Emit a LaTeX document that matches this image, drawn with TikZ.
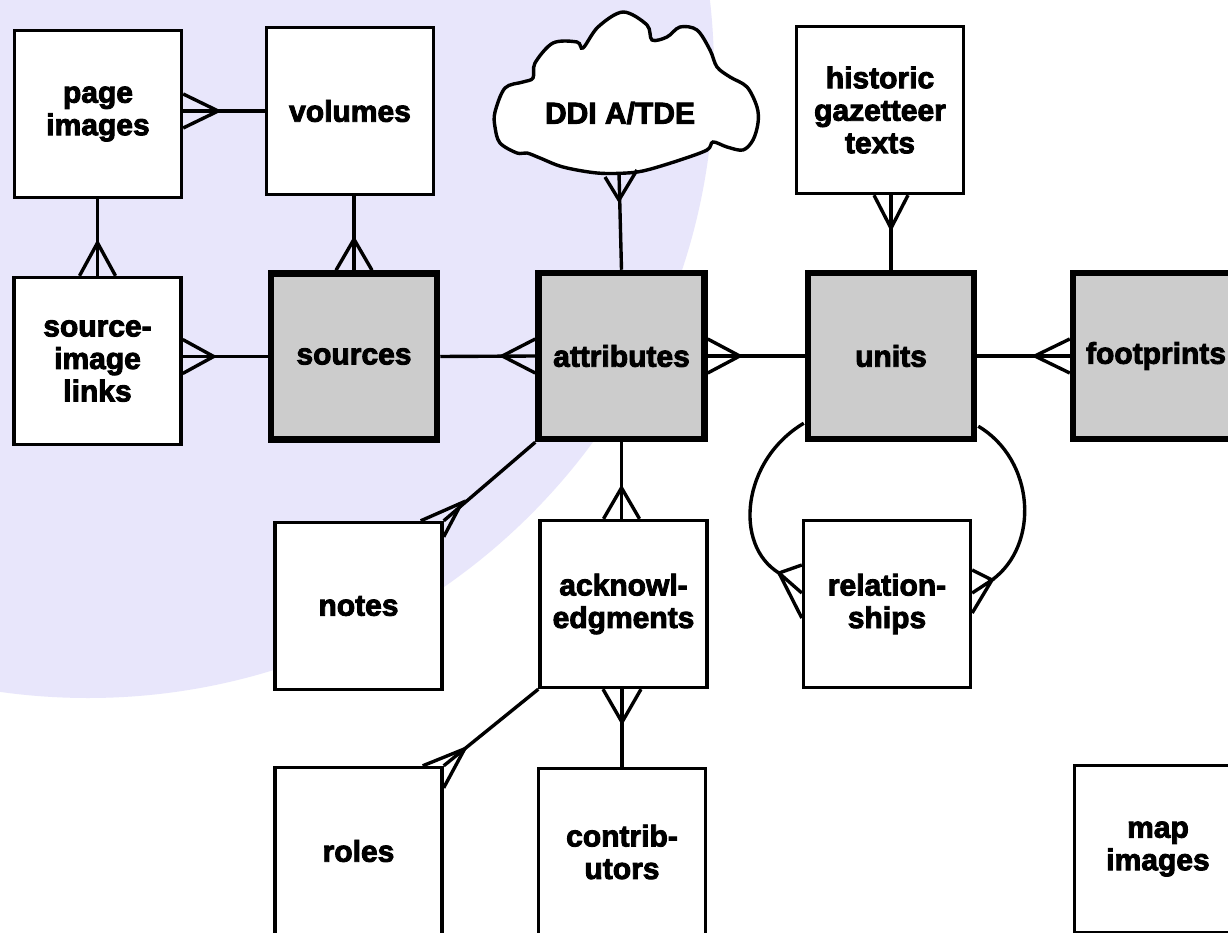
\documentclass[tikz,border=0pt]{standalone}
\usepackage{fontspec}
\setmainfont{Liberation Sans}[BoldFeatures={FakeBold=3}]
\usetikzlibrary{calc}
\definecolor{lav}{RGB}{232,230,251}
\definecolor{entgray}{RGB}{204,204,204}
\newcommand\lbl{\bfseries\fontsize{30}{32.5}\selectfont}
\tikzset{
  box/.style={draw, line width=3.4pt, fill=white, minimum width=167pt,
    minimum height=167pt, inner sep=0pt, align=center, font=\lbl},
  core/.style={box, line width=6.5pt, fill=entgray, minimum width=166pt,
    minimum height=166pt},
  link/.style={line width=3.4pt},
}
\begin{document}
\begin{tikzpicture}[x=1pt, y=-1pt]
\useasboundingbox (0,0) rectangle (1228,933);
\fill[white] (0,0) rectangle (1228,933);
\clip (0,0) rectangle (1228,933);
\fill[lav] (88,72) circle[radius=626];

% cloud outline for the external source
\draw[link, fill=white] plot[smooth cycle, tension=0.55] coordinates {
  (495,112) (505,88) (523,82) (533,78) (535,63) (553,43) (577,42) (583,48)
  (598,27) (623,12) (647,25) (652,40) (667,37) (680,27) (697,30) (710,50)
  (717,67) (730,77) (747,87) (757,107) (758,123) (753,140) (743,150)
  (727,147) (713,142) (707,150) (680,160) (647,170) (627,173) (597,173)
  (563,167) (540,158) (527,153) (517,153) (500,143) (495,127)};
\node[font=\lbl] (ddi) at (620,113) {DDI A/TDE};
\coordinate (ddibot) at (619,173);
\coordinate (ddimeet) at (619,200);

% entities
\node[box]  (pageimg)    at (98,114)    {page\\images};
\node[box]  (volumes)    at (350,111)   {volumes};
\node[box]  (srclinks)   at (97.5,361)  {source-\\image\\links};
\node[core] (sources)    at (354,356.5) {sources};
\node[core] (attributes) at (621.5,356) {attributes};
\node[core] (units)      at (891,356)   {units};
\node[core] (footprints) at (1156,356)  {footprints};
\node[box]  (historic)   at (880,110)   {historic\\gazetteer\\texts};
\node[box]  (notes)      at (358.5,606) {notes};
\node[box]  (ack)        at (623.5,604) {acknowl-\\edgments};
\node[box]  (relships)   at (887,604)   {relation-\\ships};
\node[box]  (roles)      at (358.5,851) {roles};
\node[box]  (contrib)    at (622,852)   {contrib-\\utors};
\node[box]  (mapimg)     at (1158,849)  {map\\images};

% page images -- volumes
\coordinate (a) at (volumes.west -| pageimg.east);
\draw[link] (volumes.west) -- (a);
\draw[link] ($(a)+(0,-17)$) -- ($(a)+(35,0)$) -- ($(a)+(0,17)$) (a) -- ($(a)+(35,0)$);

% page images -- source-image links
\coordinate (b) at (srclinks.north);
\draw[link] (b) -- (b |- pageimg.south);
\draw[link] ($(b)+(-18,0)$) -- ($(b)+(0,-33)$) -- ($(b)+(18,0)$);

% volumes -- sources
\coordinate (c) at (sources.north);
\draw[link] (c) -- (c |- volumes.south);
\draw[link] ($(c)+(-18,0)$) -- ($(c)+(0,-31)$) -- ($(c)+(18,0)$);

% source-image links -- sources
\coordinate (d) at (sources.west -| srclinks.east);
\draw[link] (sources.west) -- (d);
\draw[link] ($(d)+(0,-17)$) -- ($(d)+(31,0)$) -- ($(d)+(0,17)$);

% sources -- attributes
\draw[link] (sources.east) -- (attributes.west);
\draw[link] ($(attributes.west)+(0,-17)$) -- ($(attributes.west)+(-33,0)$)
  -- ($(attributes.west)+(0,17)$);

% attributes -- units
\draw[link] (attributes.east) -- (units.west);
\draw[link] ($(attributes.east)+(0,-17)$) -- ($(attributes.east)+(32,0)$)
  -- ($(attributes.east)+(0,17)$);

% units -- footprints
\draw[link] (units.east) -- (footprints.west);
\draw[link] ($(footprints.west)+(0,-17)$) -- ($(footprints.west)+(-35,0)$)
  -- ($(footprints.west)+(0,17)$);

% attributes -- cloud
\draw[link] (attributes.north) -- (ddibot);
\draw[link] (605,177) -- (ddimeet) -- (637,170);

% historic gazetteer texts -- units
\coordinate (e) at (units.north |- historic.south);
\draw[link] (units.north) -- (e);
\draw[link] ($(e)+(-17,0)$) -- ($(e)+(0,33)$) -- ($(e)+(17,0)$);

% attributes -- notes
\draw[link] (attributes.south west) -- (notes.north east);
\draw[link] ($(notes.north east)+(-23,0)$) -- ($(notes.north east)+(18,-18)$)
  -- ($(notes.north east)+(0,16)$);

% attributes -- acknowledgments
\coordinate (f) at (attributes.south |- ack.north);
\draw[link] (attributes.south) -- (f);
\draw[link] ($(f)+(-18,0)$) -- ($(f)+(0,-31)$) -- ($(f)+(18,0)$);

% acknowledgments -- roles
\draw[link] (ack.south west) -- (roles.north east);
\draw[link] ($(roles.north east)+(-21,0)$) -- ($(roles.north east)+(21,-17)$)
  -- ($(roles.north east)+(0,22)$);

% acknowledgments -- contributors
\coordinate (g) at (contrib.north |- ack.south);
\draw[link] (contrib.north) -- (g);
\draw[link] ($(g)+(-19,0)$) -- ($(g)+(0,33)$) -- ($(g)+(19,0)$);

% units -- relationships (two loops)
\coordinate (lmeet) at (779,573);
\coordinate (rmeet) at (992,580);
\draw[link] ($(units.south west)+(-1,-19)$) .. controls (742,460) and (733,545) .. (lmeet);
\draw[link] ($(relships.west)+(0,-39)$) -- (lmeet) -- ($(relships.west)+(0,-11)$)
  (lmeet) -- ($(relships.west)+(0,14)$);
\draw[link] ($(units.south east)+(1,-16)$) .. controls (1035,460) and (1040,545) .. (rmeet);
\draw[link] ($(relships.east)+(0,-34)$) -- (rmeet) -- ($(relships.east)+(0,-11)$)
  (rmeet) -- ($(relships.east)+(0,9)$);
\end{tikzpicture}
\end{document}
